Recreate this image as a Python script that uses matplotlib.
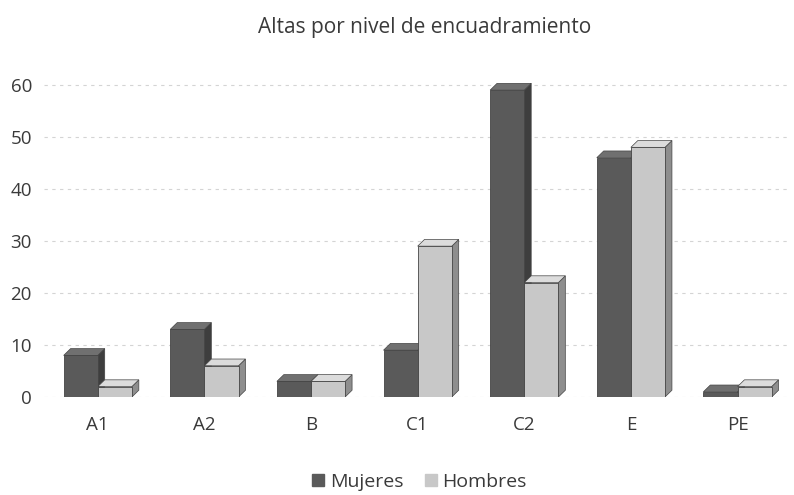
import matplotlib.pyplot as plt
from matplotlib.patches import Polygon
import numpy as np

plt.rcParams['font.family'] = ['Open Sans', 'DejaVu Sans']

categories = ["A1", "A2", "B", "C1", "C2", "E", "PE"]
mujeres = [8, 13, 3, 9, 59, 46, 1]
hombres = [2, 6, 3, 29, 22, 48, 2]

dark = "#5a5a5a"
light = "#c8c8c8"
text_col = "#3a3a3a"

# fake 3D depth (data units)
dx = 0.065
dy = 1.3
w = 0.32


def draw_bars(ax, xs, vals, color, side, top):
    ax.bar(xs, vals, width=w, color=color, edgecolor="#444444", linewidth=0.6, zorder=3)
    for x, v in zip(xs, vals):
        l, r = x - w / 2, x + w / 2
        ax.add_patch(Polygon([(r, 0), (r + dx, dy), (r + dx, v + dy), (r, v)],
                             closed=True, facecolor=side, edgecolor="#444444", lw=0.5, zorder=2))
        ax.add_patch(Polygon([(l, v), (l + dx, v + dy), (r + dx, v + dy), (r, v)],
                             closed=True, facecolor=top, edgecolor="#444444", lw=0.5, zorder=2))


fig = plt.figure(figsize=(7.94, 4.95), dpi=100)
ax = fig.add_axes([0.056, 0.198, 0.94, 0.683])

x = np.arange(len(categories))
draw_bars(ax, x - w / 2, mujeres, dark, "#3e3e3e", "#707070")
draw_bars(ax, x + w / 2, hombres, light, "#8e8e8e", "#dcdcdc")

ax.set_xlim(-0.5, 6.5)
ax.set_ylim(0, 65)
ax.set_yticks(range(0, 61, 10))
ax.set_xticks(x)
ax.set_xticklabels(categories)
ax.tick_params(axis="both", length=0, labelsize=13.5, colors=text_col)
ax.tick_params(axis="x", pad=14)
ax.tick_params(axis="y", pad=9)
for s in ax.spines.values():
    s.set_visible(False)
ax.grid(axis="y", color="#d4d4d4", linestyle=(0, (3, 4)), linewidth=0.8, zorder=0)
ax.set_axisbelow(True)

fig.text(0.535, 0.945, "Altas por nivel de encuadramiento", ha="center", va="center",
         fontsize=15, color=text_col)

h1 = plt.Line2D([], [], marker="s", color=dark, linestyle="", markersize=8)
h2 = plt.Line2D([], [], marker="s", color=light, linestyle="", markersize=8)
fig.legend([h1, h2], ["Mujeres", "Hombres"], loc="center", bbox_to_anchor=(0.527, 0.027),
           ncol=2, frameon=False, fontsize=14, handlelength=0.8, handletextpad=0.2,
           columnspacing=1.0, labelcolor=text_col)

fig.savefig("out.png", dpi=100)
